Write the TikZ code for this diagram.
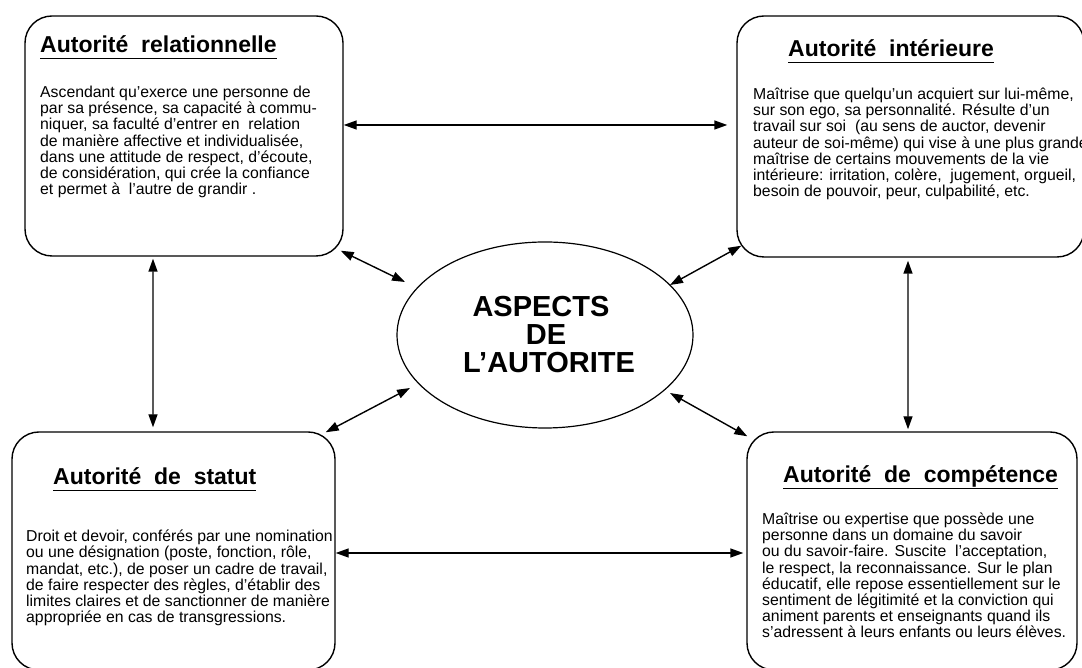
\documentclass[tikz,border=0pt]{standalone}
\usepackage{fontspec}
\setmainfont{Liberation Sans}
\usetikzlibrary{arrows.meta,shapes.geometric}
\newcommand\myul[1]{\setbox0=\hbox{#1}\rlap{\rule[-6.5bp]{\wd0}{1.4bp}}\box0}
\begin{document}
\begin{tikzpicture}[x=1bp,y=1bp,
  box/.style={draw,line width=1.4bp,rounded corners=27bp,inner sep=0pt},
  titletext/.style={anchor=base west,inner sep=0pt,font=\fontsize{23bp}{27bp}\selectfont\bfseries},
  bodytext/.style={anchor=base west,inner sep=0pt,align=left,font=\fontsize{15.8bp}{16.2bp}\selectfont},
  arr/.style={line width=1.4bp,{Triangle[length=13bp,width=9bp]}-{Triangle[length=13bp,width=9bp]}}]
\useasboundingbox (0,0) rectangle (1082,668);
\clip (0,0) rectangle (1082,668);
% boxes
\node[box,minimum width=318bp,minimum height=240bp] (tl) at (184,532) {};
\node[box,minimum width=347bp,minimum height=241bp] (tr) at (910.5,531.5) {};
\node[box,minimum width=323bp,minimum height=238bp] (bl) at (173.5,117) {};
\node[box,minimum width=330bp,minimum height=238bp] (br) at (912,117) {};
% centre
\node[ellipse,draw,line width=1.2bp,minimum width=296bp,minimum height=186bp,inner sep=0pt,align=center,
  font=\fontsize{29bp}{28bp}\selectfont\bfseries] (c) at (545,333)
  {ASPECTS\hspace*{8bp}\\\hspace*{2bp}DE\\\hspace*{8bp}L’AUTORITE};
% titles
\node[titletext] (tlt) at (40,615) {\myul{Autorité~~relationnelle}};
\node[titletext] (trt) at (788,611) {\myul{Autorité~~intérieure}};
\node[titletext] (blt) at (53,183) {\myul{Autorité~~de~~statut}};
\node[titletext] (brt) at (783,185) {\myul{Autorité~~de~~compétence}};
% bodies (anchored at the baseline of their last line)
\node[bodytext] (tlb) at (40,473.2) {Ascendant qu’exerce une personne de\\
par sa présence, sa capacité à commu-\\
niquer, sa faculté d’entrer en~~relation\\
de manière affective et individualisée,\\
dans une attitude de respect, d’écoute,\\
de considération, qui crée la confiance\\
et permet à~~l’autre de grandir .};
\node[bodytext] (trb) at (753,471.2) {Maîtrise que quelqu’un acquiert sur lui-même,\\
sur son ego, sa personnalité. Résulte d’un\\
travail sur soi~~(au sens de auctor, devenir\\
auteur de soi-même) qui vise à une plus grande\\
maîtrise de certains mouvements de la vie\\
intérieure: irritation, colère,~~jugement, orgueil,\\
besoin de pouvoir, peur, culpabilité, etc.};
\node[bodytext] (blb) at (26,45.2) {Droit et devoir, conférés par une nomination\\
ou une désignation (poste, fonction, rôle,\\
mandat, etc.), de poser un cadre de travail,\\
de faire respecter des règles, d’établir des\\
limites claires et de sanctionner de manière\\
appropriée en cas de transgressions.};
\node[bodytext] (brb) at (762,30) {Maîtrise ou expertise que possède une\\
personne dans un domaine du savoir\\
ou du savoir-faire. Suscite~~l’acceptation,\\
le respect, la reconnaissance. Sur le plan\\
éducatif, elle repose essentiellement sur le\\
sentiment de légitimité et la conviction qui\\
animent parents et enseignants quand ils\\
s’adressent à leurs enfants ou leurs élèves.};
% connectors
\draw[arr] ([yshift=11bp]tl.east) -- ([yshift=11.5bp,xshift=-9bp]tr.west);
\draw[arr] ([yshift=-2bp]bl.east) -- ([yshift=-2bp,xshift=-3bp]br.west);
\draw[arr] ([xshift=-31bp,yshift=-2bp]tl.south) -- ([xshift=-20.5bp,yshift=4bp]bl.north);
\draw[arr] ([xshift=-2.5bp,yshift=-3bp]tr.south) -- ([xshift=-4bp,yshift=2bp]br.north);
\draw[arr] ([xshift=-3bp,yshift=6bp]tl.south east) -- ([xshift=-140bp,yshift=53bp]c.center);
\draw[arr] ([xshift=5bp,yshift=12bp]tr.south west) -- ([xshift=125bp,yshift=50bp]c.center);
\draw[arr] ([xshift=-10bp,yshift=-1bp]bl.north east) -- ([xshift=-135bp,yshift=-53bp]c.center);
\draw[arr] ([xshift=1bp,yshift=-5bp]br.north west) -- ([xshift=125bp,yshift=-58bp]c.center);
\end{tikzpicture}
\end{document}
